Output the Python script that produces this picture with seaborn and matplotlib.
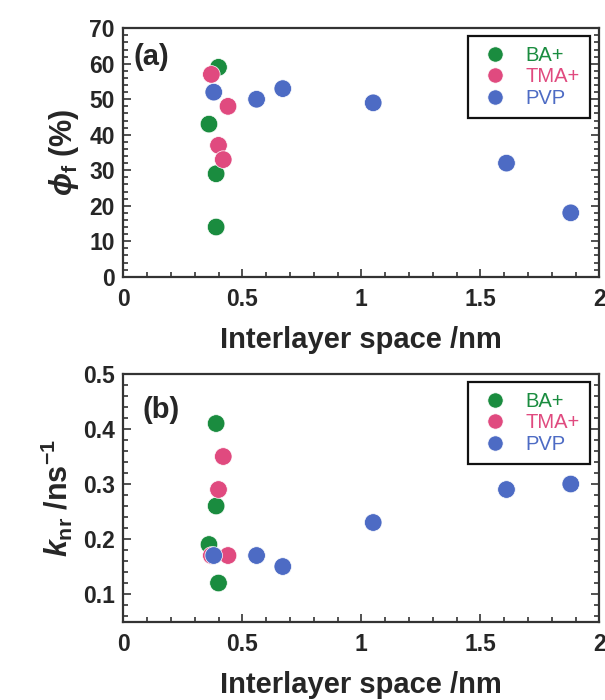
import numpy as np
import pandas as pd
import matplotlib
matplotlib.use("Agg")
import matplotlib.pyplot as plt
from matplotlib.ticker import MultipleLocator, FuncFormatter
import seaborn as sns

# Interlayer spacing (nm) of each hybrid film
ba_x = [0.40, 0.36, 0.39, 0.39]
tma_x = [0.37, 0.44, 0.40, 0.42]
pvp_x = [0.38, 0.56, 0.67, 1.05, 1.61, 1.88]

# Fluorescence quantum yield phi_f (%)
ba_phi = [59, 43, 29, 14]
tma_phi = [57, 48, 37, 33]
pvp_phi = [52, 50, 53, 49, 32, 18]

# Non-radiative rate constant k_nr (ns^-1)
ba_knr = [0.12, 0.19, 0.41, 0.26]
tma_knr = [0.17, 0.17, 0.29, 0.35]
pvp_knr = [0.17, 0.17, 0.15, 0.23, 0.29, 0.30]

samples = ["BA+", "TMA+", "PVP"]
colors = {"BA+": "#1a8c3f", "TMA+": "#e04a7f", "PVP": "#4d6bc4"}


def frame(ys):
    rows = []
    for name, xs, vals in zip(samples, [ba_x, tma_x, pvp_x], ys):
        for x, v in zip(xs, vals):
            rows.append({"sample": name, "space": x, "value": v})
    return pd.DataFrame(rows)


df_phi = frame([ba_phi, tma_phi, pvp_phi])
df_knr = frame([ba_knr, tma_knr, pvp_knr])

sns.set_style("ticks")
plt.rcParams["font.family"] = ["Liberation Sans", "DejaVu Sans"]
plt.rcParams["mathtext.fontset"] = "custom"
plt.rcParams["mathtext.rm"] = "Liberation Sans:bold"
plt.rcParams["mathtext.it"] = "Liberation Sans:italic:bold"
plt.rcParams["mathtext.bf"] = "Liberation Sans:bold"
plt.rcParams["mathtext.fallback"] = "stixsans"

spine_col = "#333333"
fig = plt.figure(figsize=(6.05, 7.0), dpi=100)
ax_a = fig.add_axes([0.2038, 0.6047, 0.7868, 0.3549])
ax_b = fig.add_axes([0.2038, 0.1121, 0.7868, 0.3536])

fmt = FuncFormatter(lambda v, p: "%g" % round(v, 3))


def style(ax, ylim, ymaj, ymin, ylabel, tag, tag_xy):
    ax.set_xlim(0, 2)
    ax.set_ylim(*ylim)
    ax.xaxis.set_major_locator(MultipleLocator(0.5))
    ax.xaxis.set_minor_locator(MultipleLocator(0.1))
    ax.yaxis.set_major_locator(MultipleLocator(ymaj))
    ax.yaxis.set_minor_locator(MultipleLocator(ymin))
    ax.xaxis.set_major_formatter(fmt)
    ax.yaxis.set_major_formatter(fmt)
    for s in ax.spines.values():
        s.set_visible(True)
        s.set_linewidth(1.6)
        s.set_color(spine_col)
    ax.tick_params(which="both", direction="in", top=False, right=True,
                   color=spine_col, width=1.2)
    ax.tick_params(which="major", length=6, labelsize=16.5, pad=6)
    ax.tick_params(which="minor", length=3.5)
    ax.tick_params(axis="x", which="major", pad=8)
    for lab in ax.get_xticklabels() + ax.get_yticklabels():
        lab.set_fontweight("bold")
    ax.set_xlabel("Interlayer space /nm", fontsize=21, fontweight="bold",
                  labelpad=11)
    ax.set_ylabel(ylabel, fontsize=22, fontweight="bold", labelpad=6)
    ax.text(tag_xy[0], tag_xy[1], tag, transform=ax.transAxes, fontsize=21,
            fontweight="bold", va="center", ha="left")
    handles, labels = ax.get_legend_handles_labels()
    for h in handles:
        try:
            h.set_markersize(11)
        except AttributeError:
            h.set_sizes([120])
    leg = ax.legend(handles, labels, loc="upper right",
                    bbox_to_anchor=(0.980, 0.969), borderaxespad=0,
                    frameon=True, fancybox=False, framealpha=1,
                    edgecolor="#111111", fontsize=14.5, handletextpad=0.65,
                    labelspacing=0.12, borderpad=0.5, handlelength=1.7)
    leg.get_frame().set_linewidth(1.6)
    for t, name in zip(leg.get_texts(), labels):
        t.set_color(colors[name])


for ax, df in [(ax_a, df_phi), (ax_b, df_knr)]:
    sns.scatterplot(data=df, x="space", y="value", hue="sample",
                    hue_order=samples, palette=colors, s=160,
                    edgecolor="white", linewidth=0.5, ax=ax, zorder=3)

style(ax_a, (0, 70), 10, 2, r"$\phi_{\mathrm{f}}$ (%)", "(a)", (0.022, 0.884))
style(ax_b, (0.05, 0.5), 0.1, 0.02, r"$k_{\mathrm{nr}}$ /ns$^{\mathrm{-1}}$",
      "(b)", (0.04, 0.855))

fig.savefig("out.png", dpi=100)
